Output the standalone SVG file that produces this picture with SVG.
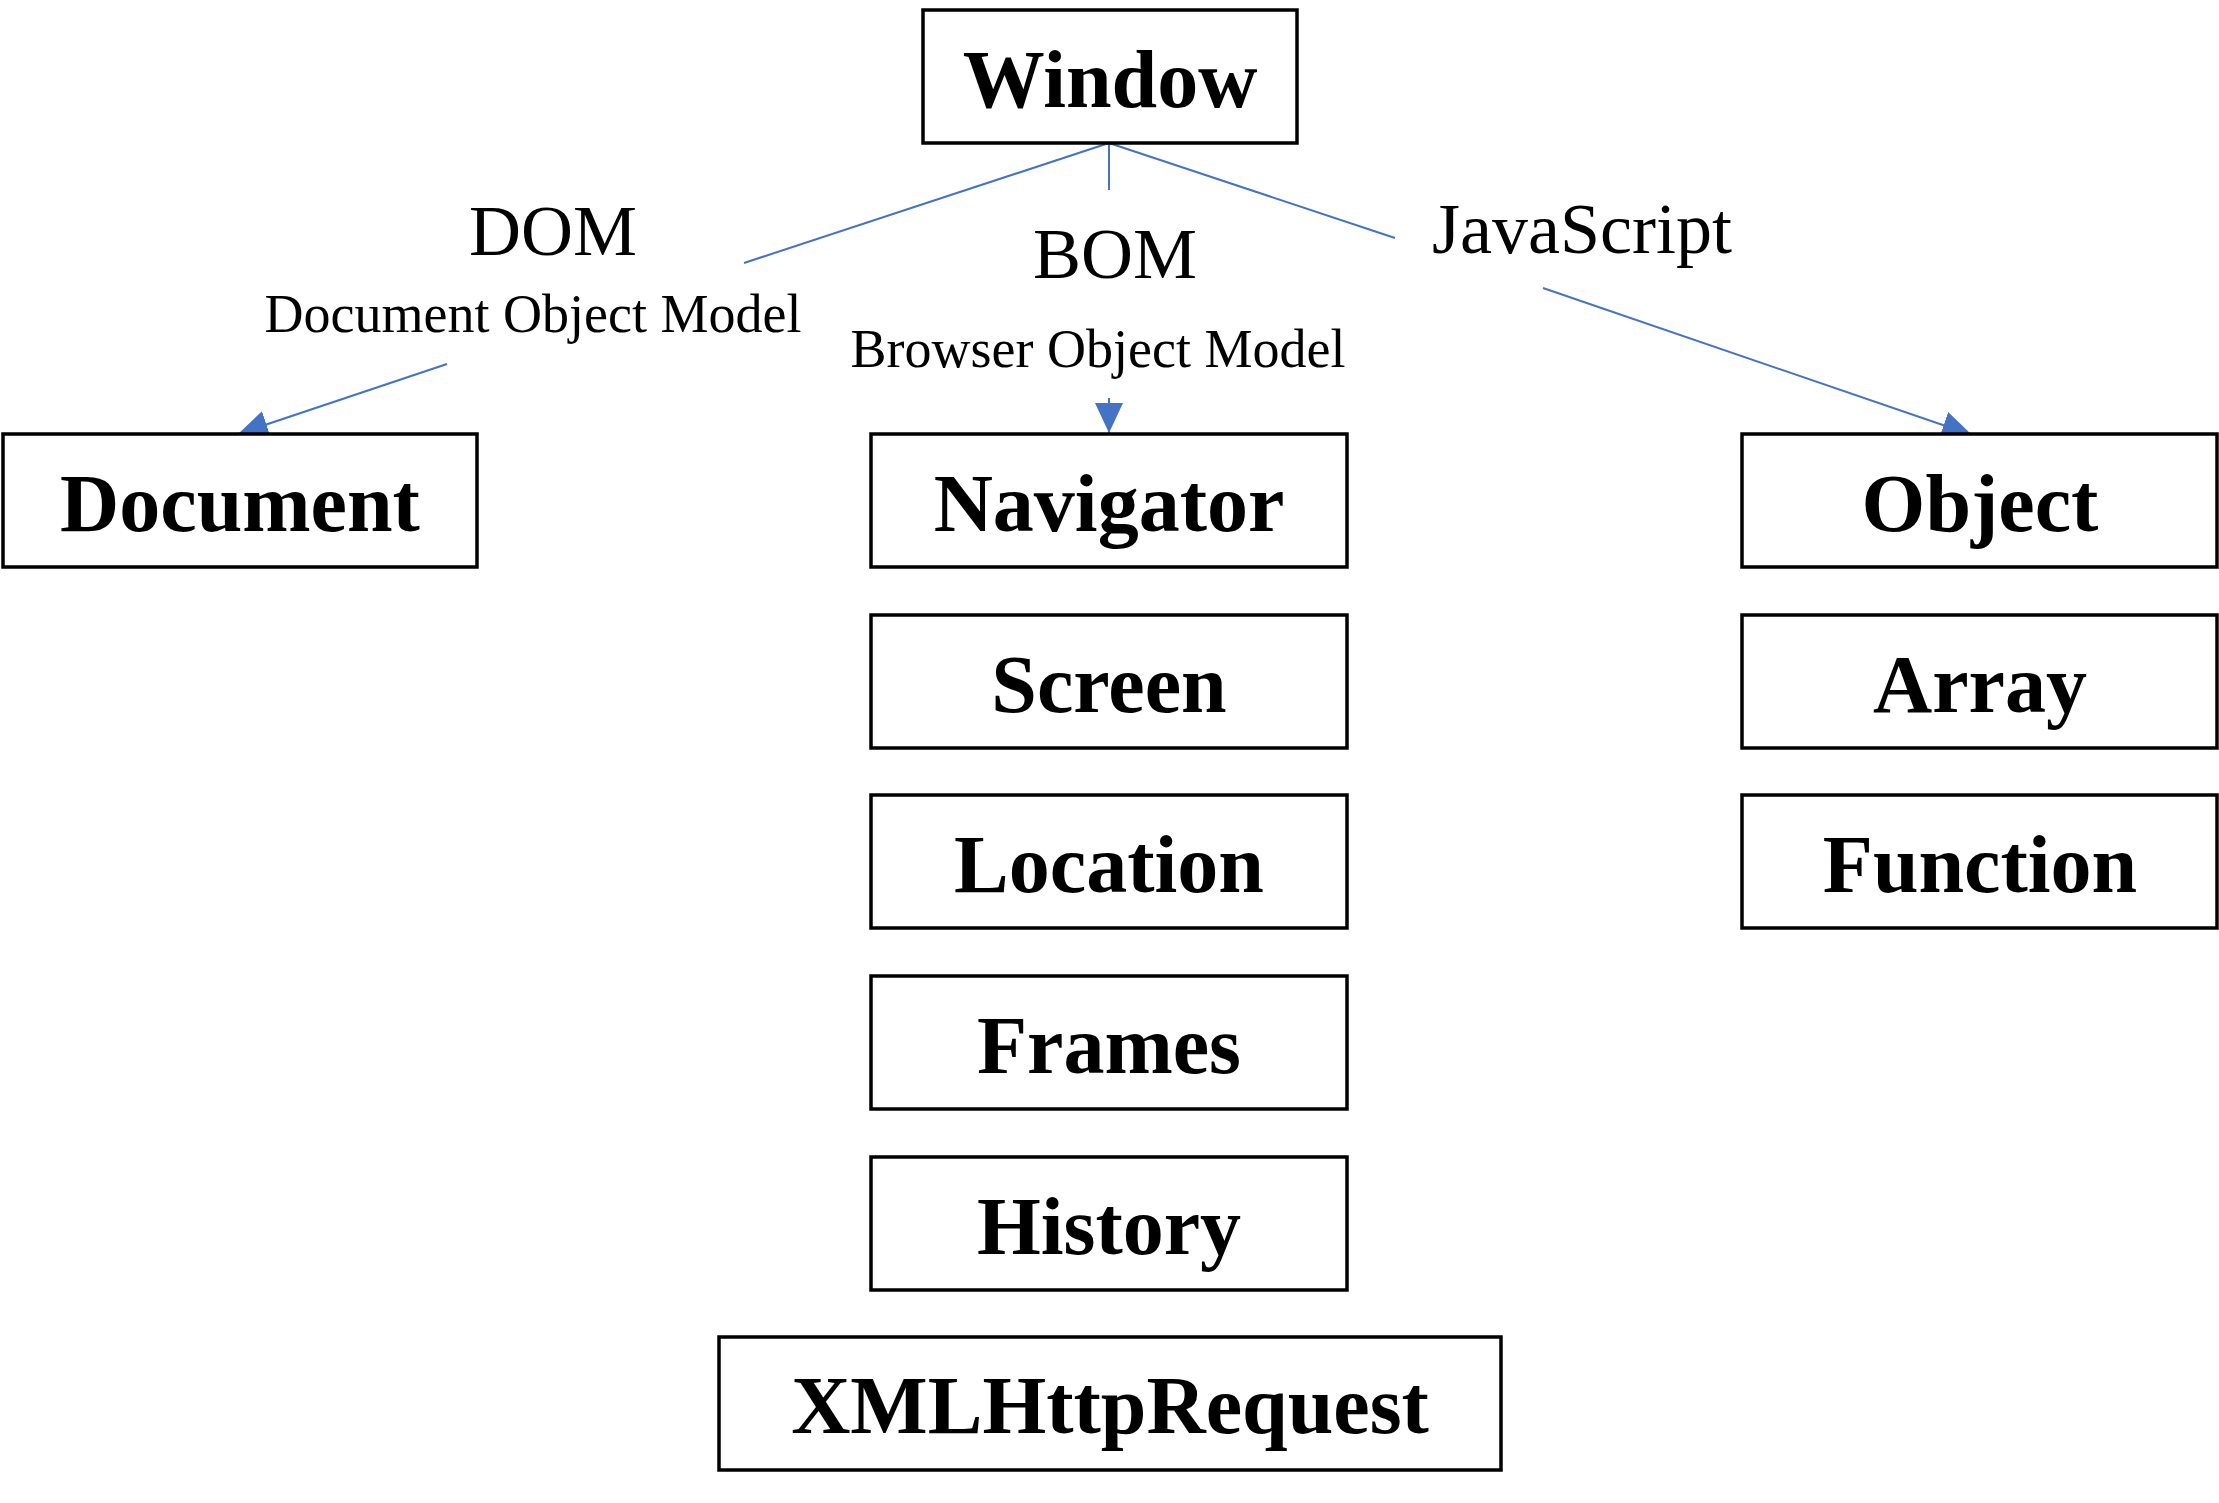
<svg xmlns="http://www.w3.org/2000/svg" width="2219" height="1503" viewBox="0 0 2219 1503">
<style>
.box{fill:#fff;stroke:#000;stroke-width:3.5}
.nl{font-family:"Liberation Serif","Times New Roman",serif;font-weight:bold;font-size:82px;text-anchor:middle;fill:#000}
.big{font-family:"Liberation Serif","Times New Roman",serif;font-size:72px;text-anchor:middle;fill:#000}
.sm{font-family:"Liberation Serif","Times New Roman",serif;font-size:54px;text-anchor:middle;fill:#000}
.ln{stroke:#4472C4;stroke-width:2;fill:none}
</style>
<defs>
<marker id="ah" markerUnits="userSpaceOnUse" markerWidth="32" markerHeight="28" refX="30" refY="14" orient="auto">
<path d="M0,0 L30,14 L0,28 Z" fill="#4472C4"/>
</marker>
</defs>
<rect width="2219" height="1503" fill="#fff"/>
<g id="connectors">
<line class="ln" x1="1109" y1="143" x2="744" y2="263"/>
<line class="ln" x1="447" y1="364" x2="238" y2="434" marker-end="url(#ah)"/>
<line class="ln" x1="1109" y1="143" x2="1109" y2="190"/>
<line class="ln" x1="1109" y1="398" x2="1109" y2="433" marker-end="url(#ah)"/>
<line class="ln" x1="1109" y1="143" x2="1395" y2="238"/>
<line class="ln" x1="1543" y1="288" x2="1972" y2="435" marker-end="url(#ah)"/>
</g>
<g id="labels">
<text class="big" x="553" y="255">DOM</text>
<text class="sm" x="533" y="332">Document Object Model</text>
<text class="big" x="1115" y="278">BOM</text>
<text class="sm" x="1098" y="367">Browser Object Model</text>
<text class="big" x="1582" y="253">JavaScript</text>
</g>
<g id="window"><rect class="box" x="923" y="10" width="374" height="133"/><text class="nl" x="1110" y="107" font-size="84">Window</text></g>
<g id="document"><rect class="box" x="3" y="434" width="474" height="133"/><text class="nl" x="240" y="531">Document</text></g>
<g id="navigator"><rect class="box" x="871" y="434" width="476" height="133"/><text class="nl" x="1109" y="531">Navigator</text></g>
<g id="screen"><rect class="box" x="871" y="615" width="476" height="133"/><text class="nl" x="1109" y="712">Screen</text></g>
<g id="location"><rect class="box" x="871" y="795" width="476" height="133"/><text class="nl" x="1109" y="892">Location</text></g>
<g id="frames"><rect class="box" x="871" y="976" width="476" height="133"/><text class="nl" x="1109" y="1073">Frames</text></g>
<g id="history"><rect class="box" x="871" y="1157" width="476" height="133"/><text class="nl" x="1109" y="1254">History</text></g>
<g id="xmlhttprequest"><rect class="box" x="719" y="1337" width="782" height="133"/><text class="nl" x="1110" y="1433">XMLHttpRequest</text></g>
<g id="object"><rect class="box" x="1742" y="434" width="475" height="133"/><text class="nl" x="1980" y="531">Object</text></g>
<g id="array"><rect class="box" x="1742" y="615" width="475" height="133"/><text class="nl" x="1980" y="712">Array</text></g>
<g id="function"><rect class="box" x="1742" y="795" width="475" height="133"/><text class="nl" x="1980" y="892">Function</text></g>
</svg>
